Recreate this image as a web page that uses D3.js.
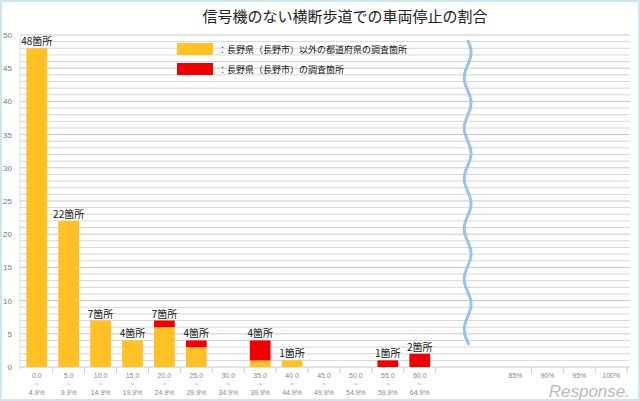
<!DOCTYPE html><html><head><meta charset="utf-8"><script src="https://cdn.jsdelivr.net/npm/d3@7"></script>
<style>body{margin:0;background:#fff}</style></head><body><svg id="c" width="640" height="401"></svg><script>
const categories=["0.0","5.0","10.0","15.0","20.0","25.0","30.0","35.0","40.0","45.0","50.0","55.0","60.0","g1","g2","85%","90%","95%","100%"];
const upper=["4.9%","9.9%","14.9%","19.9%","24.9%","29.9%","34.9%","39.9%","44.9%","49.9%","54.9%","59.9%","64.9%"];
const otherVals=[48,22,7,4,6,3,0,1,1,0,0,0,0];
const naganoVals=[0,0,0,0,1,1,0,3,0,0,0,1,2];
const labels=["48箇所","22箇所","7箇所","4箇所","7箇所","4箇所","","4箇所","1箇所","","","1箇所","2箇所"];
const yTicks=[0,5,10,15,20,25,30,35,40,45,50];
const svg=d3.select("#c");
svg.append("rect").attr("x",1).attr("y",1).attr("width",638).attr("height",399).attr("fill","#fff").attr("stroke","#cfe3f0").attr("stroke-width",2);
const x=d3.scaleBand().domain(categories).range([20,628]).paddingInner(0.35).paddingOuter(0.2);
const y=d3.scaleLinear().domain([0,50]).range([367,35]);
const g=svg.append("g");
d3.range(0,51).forEach(v=>g.append("line").attr("x1",20).attr("x2",630).attr("y1",y(v)).attr("y2",y(v)).attr("stroke",v%5?"#d6d6d6":"#c8c8c8").attr("stroke-width",1));
g.append("line").attr("x1",20).attr("x2",20).attr("y1",y(50)).attr("y2",y(0)+3).attr("stroke","#cfe3f0");
yTicks.forEach(v=>g.append("text").attr("x",12).attr("y",y(v)+3).attr("text-anchor","end").attr("font-size",8).attr("fill","#777").attr("font-family","Liberation Sans").text(v));
const step=x.step();
categories.forEach((c,i)=>{if(i===13||i===14)return;g.append("line").attr("x1",x(c)+x.bandwidth()/2+step/2).attr("x2",x(c)+x.bandwidth()/2+step/2).attr("y1",y(0)).attr("y2",y(0)+6).attr("stroke","#ccc");});
const cats=categories.slice(0,13);
g.selectAll(".o").data(cats).join("rect").attr("x",d=>x(d)).attr("width",x.bandwidth()).attr("y",(d,i)=>y(otherVals[i])).attr("height",(d,i)=>y(0)-y(otherVals[i])).attr("fill","#ffc125");
g.selectAll(".n").data(cats).join("rect").attr("x",d=>x(d)).attr("width",x.bandwidth()).attr("y",(d,i)=>y(otherVals[i]+naganoVals[i])).attr("height",(d,i)=>y(0)-y(naganoVals[i])).attr("fill","#ee0000");
cats.forEach((c,i)=>{const cx=x(c)+x.bandwidth()/2;
 if(labels[i])g.append("text").attr("x",cx).attr("y",y(otherVals[i]+naganoVals[i])-3).attr("text-anchor","middle").attr("font-size",10).attr("font-family","Noto Sans CJK JP").attr("fill","#111").text(labels[i]);
 g.append("text").attr("x",cx).attr("y",378).attr("text-anchor","middle").attr("font-size",7).attr("fill","#888").attr("font-family","Liberation Sans").text(c);
 g.append("text").attr("x",cx).attr("y",386).attr("text-anchor","middle").attr("font-size",7).attr("fill","#888").text("~");
 g.append("text").attr("x",cx).attr("y",395).attr("text-anchor","middle").attr("font-size",7).attr("fill","#888").attr("font-family","Liberation Sans").text(upper[i]);});
categories.slice(15).forEach(c=>g.append("text").attr("x",x(c)+x.bandwidth()/2).attr("y",378).attr("text-anchor","middle").attr("font-size",7).attr("fill","#888").attr("font-family","Liberation Sans").text(c));
const wx=(x("g1")+x("g2")+x.bandwidth())/2;
const pts=d3.range(0,41).map(k=>{const yy=40+k*(345-40)/40;return [wx+4*Math.sin(k*Math.PI/3.3),yy];});
g.append("path").attr("d",d3.line().curve(d3.curveBasis)(pts)).attr("fill","none").attr("stroke","#9cc3e6").attr("stroke-width",3);
svg.append("text").attr("x",345).attr("y",22).attr("text-anchor","middle").attr("font-size",15).attr("font-family","Noto Sans CJK JP").attr("fill","#222").text("信号機のない横断歩道での車両停止の割合");
const leg=[["#ffc125","：長野県（長野市）以外の都道府県の調査箇所"],["#ee0000","：長野県（長野市）の調査箇所"]];
leg.forEach((l,i)=>{svg.append("rect").attr("x",177).attr("y",43+i*20).attr("width",36).attr("height",12).attr("fill",l[0]);
 svg.append("text").attr("x",218).attr("y",53+i*20).attr("font-size",9).attr("font-family","Noto Sans CJK JP").attr("fill","#111").text(l[1]);});
svg.append("text").attr("x",630).attr("y",397).attr("text-anchor","end").attr("font-size",17).attr("font-style","italic").attr("fill","#bbb").attr("font-family","Liberation Sans").text("Response.");
</script></body></html>
